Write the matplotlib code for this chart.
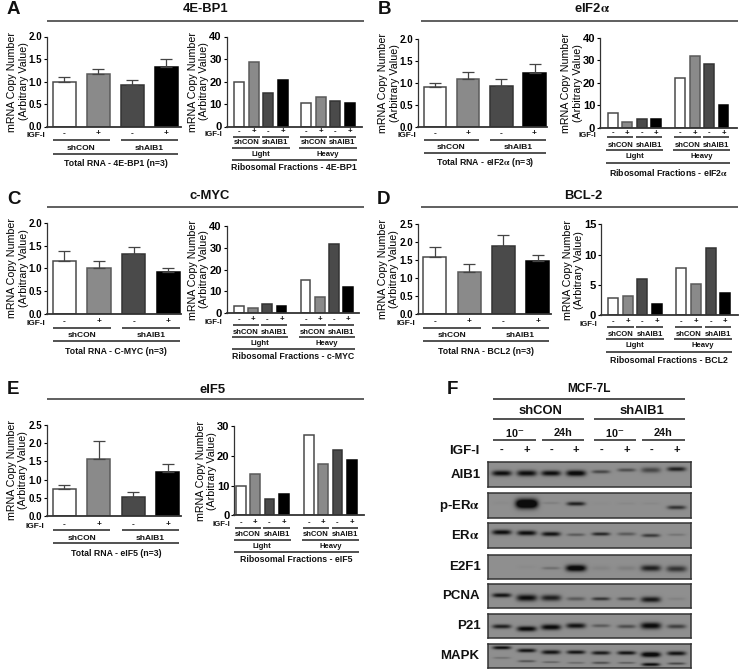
import numpy as np
import matplotlib
matplotlib.use('Agg')
import matplotlib.pyplot as plt

plt.rcParams['font.family'] = ['Liberation Sans', 'DejaVu Sans']
plt.rcParams['font.weight'] = 'bold'
plt.rcParams['mathtext.fontset'] = 'stix'

W, H = 740, 670
INK = '#222222'
ALPHA = '$\\mathrm{\\alpha}$'
BAR_COLORS = ['white', '#8a8a8a', '#4a4a4a', 'black']
BAR_EDGES = ['#4a4a4a', '#5a5a5a', '#333333', 'black']

SIGNS = ['-', '+', '-', '+']
GROUPS = ['shCON', 'shAIB1']
FRACTIONS = ['Light', 'Heavy']

# values
a_total = [0.98, 1.17, 0.93, 1.32]
a_total_err = [0.11, 0.11, 0.10, 0.17]
a_rib = [19.7, 28.7, 15.0, 20.5, 10.5, 13.0, 11.3, 10.4]
b_total = [0.90, 1.08, 0.93, 1.23]
b_total_err = [0.10, 0.17, 0.16, 0.20]
b_rib = [6.5, 2.5, 4.0, 3.9, 22.0, 32.0, 28.5, 10.3]
c_total = [1.17, 1.00, 1.31, 0.93]
c_total_err = [0.21, 0.17, 0.16, 0.07]
c_rib = [3.3, 2.6, 4.1, 3.4, 15.4, 7.5, 31.8, 12.2]
d_total = [1.60, 1.18, 1.90, 1.48]
d_total_err = [0.26, 0.20, 0.29, 0.17]
d_rib = [2.8, 3.1, 5.95, 1.9, 7.8, 5.15, 11.0, 3.6]
e_total = [0.73, 1.57, 0.53, 1.22]
e_total_err = [0.11, 0.50, 0.12, 0.20]
e_rib = [9.7, 14.0, 5.6, 7.2, 27.0, 17.4, 21.8, 18.7]

ticks_2 = [0.0, 0.5, 1.0, 1.5, 2.0]
ticks_25 = [0.0, 0.5, 1.0, 1.5, 2.0, 2.5]
ticks_40 = [0, 10, 20, 30, 40]
ticks_15 = [0, 5, 10, 15]
ticks_30 = [0, 10, 20, 30]

# western blot: band strength per lane (0-1), estimated by eye
blot_labels = ['AIB1', 'p-ER' + ALPHA, 'ER' + ALPHA, 'E2F1', 'PCNA', 'P21', 'MAPK']
aib1_bands = [1.00, 1.00, 1.00, 1.10, 0.55, 0.50, 0.55, 0.85]
perk_bands = [0.03, 1.60, 0.12, 0.85, 0.02, 0.05, 0.05, 0.70]
era_bands = [1.00, 1.00, 0.95, 0.40, 0.80, 0.40, 0.65, 0.20]
e2f1_bands = [0.00, 0.03, 0.25, 1.20, 0.08, 0.12, 0.85, 0.70]
pcna_bands = [0.95, 1.00, 0.85, 0.40, 0.70, 0.50, 0.90, 0.10]
p21_bands = [0.85, 1.05, 1.05, 0.95, 0.40, 0.50, 1.05, 0.60]
mapk_bands = [1.00, 0.95, 0.95, 0.95, 0.90, 0.95, 1.20, 0.95]
mapk_low_bands = [0.25, 0.45, 0.35, 0.30, 0.50, 0.40, 1.00, 0.55]

fig = plt.figure(figsize=(W / 100, H / 100), dpi=100)


def px_axes(x0, y_top, x1, y_bot):
    return fig.add_axes([x0 / W, 1 - y_bot / H, (x1 - x0) / W, (y_bot - y_top) / H])


# overlay in image pixels for all the annotation text and brackets
ov = fig.add_axes([0, 0, 1, 1], zorder=5)
ov.set_xlim(0, W)
ov.set_ylim(H, 0)
ov.axis('off')
ov.patch.set_alpha(0)


def hline(x0, x1, y, lw=1.1, color=INK):
    ov.plot([x0, x1], [y, y], color=color, lw=lw, solid_capstyle='butt')


def label(x, y, s, size=6, ha='center', **kw):
    ov.text(x, y, s, fontsize=size, ha=ha, va='center', color='#111111', **kw)


def style_axes(ax, ticks, fontsize):
    for s in ['top', 'right']:
        ax.spines[s].set_visible(False)
    ax.spines['left'].set_linewidth(0.9)
    ax.spines['bottom'].set_linewidth(1.3)
    ax.spines['left'].set_color('#333333')
    ax.spines['bottom'].set_color('#333333')
    ax.set_xticks([])
    ax.set_yticks(ticks)
    ax.set_yticklabels(['%g' % t if max(ticks) > 5 else '%.1f' % t for t in ticks])
    ax.tick_params(axis='y', length=2.5, width=0.8, pad=1, labelsize=fontsize)
    ax.patch.set_alpha(0)


def total_panel(box, start, step, values, errs, ticks, caption, ys):
    x0, y_top, x1, y_bot = box
    ax = px_axes(x0, y_top, x1, y_bot)
    ax.set_xlim(x0, x1)
    ax.set_ylim(0, ticks[-1])
    width = step * 0.675
    centers = [start + width / 2 + i * step for i in range(len(values))]
    ax.bar(centers, values, width=width, color=BAR_COLORS, edgecolor=BAR_EDGES, linewidth=1.1)
    for c, v, e in zip(centers, values, errs):
        ax.errorbar(c, v, yerr=[[0], [e]], color='#444444', lw=0.9, capsize=4.2, capthick=0.9, zorder=1)
    style_axes(ax, ticks, 7)
    ax.set_ylabel('mRNA Copy Number\n(Arbitrary Value)', fontsize=7.7, labelpad=0, linespacing=1.15)

    igf, l1, sh, l2, cap = ys
    label(x0 - 2, igf + 1.5, 'IGF-I', ha='right')
    for c, s in zip(centers, SIGNS):
        label(c, igf, s)
    for i, g in enumerate(GROUPS):
        a, b = centers[2 * i] - width / 2, centers[2 * i + 1] + width / 2
        hline(a, b, l1)
        label((a + b) / 2, sh, g)
    hline(centers[0] - width / 2, centers[-1] + width / 2, l2)
    label((centers[0] + centers[-1]) / 2, cap, caption, size=6.3)


def rib_panel(box, start, step, heavy_start, values, ticks, caption, ys):
    x0, y_top, x1, y_bot = box
    ax = px_axes(x0, y_top, x1, y_bot)
    ax.set_xlim(x0, x1)
    ax.set_ylim(0, ticks[-1])
    width = step * 0.69
    lights = [start + width / 2 + i * step for i in range(4)]
    heavies = [heavy_start + width / 2 + i * step for i in range(4)]
    centers = lights + heavies
    ax.bar(centers, values, width=width, color=BAR_COLORS * 2, edgecolor=BAR_EDGES * 2, linewidth=1.1)
    style_axes(ax, ticks, 8)
    ax.set_ylabel('mRNA Copy Number\n(Arbitrary Value)', fontsize=7.7, labelpad=0, linespacing=1.15)

    igf, l1, sh, l2, frac, l3, cap = ys
    label(x0 - 4, igf + 2.5, 'IGF-I', size=5.6, ha='right')
    for c, s in zip(centers, SIGNS * 2):
        label(c, igf, s, size=5.6)
    for k, (g, f) in enumerate(zip([lights, heavies], FRACTIONS)):
        for i, name in enumerate(GROUPS):
            a, b = g[2 * i] - width / 2 - 1, g[2 * i + 1] + width / 2 + 1
            hline(a, b, l1)
            label((a + b) / 2, sh, name, size=5.5)
        a, b = g[0] - width / 2 - 2, g[3] + width / 2 + 2
        hline(a, b, l2)
        label((a + b) / 2, frac, f, size=5.5)
    a, b = centers[0] - width / 2 - 2, centers[-1] + width / 2 + 2
    hline(a, b, l3)
    label((a + b) / 2, cap, caption, size=6.3)


def header(letter, lx, ly, title, tx, ty, x0, x1, y):
    label(lx, ly, letter, size=13.5, ha='left')
    label(tx, ty, title, size=9.4)
    hline(x0, x1, y, lw=1.2, color='#444444')


# panel A
header('A', 7, 10, '4E-BP1', 206, 9.5, 47, 364, 20.7)
total_panel((47, 36.5, 181, 126.5), 53, 34.0, a_total, a_total_err, ticks_2,
            'Total RNA - 4E-BP1 (n=3)', (134, 140.3, 148, 153.7, 163))
rib_panel((226.7, 36.5, 362, 126.5), 234, 14.5, 301, a_rib, ticks_40,
          'Ribosomal Fractions - 4E-BP1', (132, 136.5, 143, 148, 154, 159.5, 167))

# panel B
header('B', 378, 10, 'eIF2' + ALPHA, 592, 9, 421, 738, 20.7)
total_panel((418, 38.7, 547, 126.7), 423.7, 33.2, b_total, b_total_err, ticks_2,
            'Total RNA - eIF2' + ALPHA + ' (n=3)', (134, 139.5, 147.5, 153, 162.5))
rib_panel((600, 38, 737, 127.7), 608, 14.4, 675.3, b_rib, ticks_40,
          'Ribosomal Fractions - eIF2' + ALPHA, (133, 137.3, 145.3, 150.3, 157, 163.3, 172))

# panel C
header('C', 7, 199, 'c-MYC', 210, 196, 47, 364, 206.5)
total_panel((47, 222.7, 181, 314), 52.7, 34.6, c_total, c_total_err, ticks_2,
            'Total RNA - C-MYC (n=3)', (322, 327.7, 335.7, 341, 351))
rib_panel((226.7, 225.7, 359, 313.3), 234, 14.2, 300.7, c_rib, ticks_40,
          'Ribosomal Fractions - c-MYC', (319.7, 325, 332.7, 337.3, 343.3, 349.3, 356.7))

# panel D
header('D', 377, 199, 'BCL-2', 583, 196, 421, 738, 206.5)
total_panel((417.7, 224, 551, 314.3), 423.3, 34.3, d_total, d_total_err, ticks_25,
            'Total RNA - BCL2 (n=3)', (322, 327.5, 335.5, 341, 351))
rib_panel((601, 224.3, 738, 315), 608, 14.6, 676.3, d_rib, ticks_15,
          'Ribosomal Fractions - BCL2', (321.7, 327, 334.7, 339.3, 345.7, 351.7, 360.7))

# panel E
header('E', 7, 389, 'eIF5', 213, 390, 47, 364, 399)
total_panel((46.7, 425, 181, 516), 52.7, 34.5, e_total, e_total_err, ticks_25,
            'Total RNA - eIF5 (n=3)', (524.7, 529.5, 538, 543, 553))
rib_panel((234.3, 426, 364, 515.3), 235.7, 14.4, 303.7, e_rib, ticks_30,
          'Ribosomal Fractions - eIF5', (522.3, 527.7, 535, 540, 546.3, 552.3, 559.3))

# panel F, western blot
lane_x = [501.7, 526.7, 551, 576, 601, 626.7, 651, 676.7]
blot_rows = [
    ((488, 462, 691, 487), [(aib1_bands, [.45, .45, .45, .45, .39, .32, .32, .28], [.11, .12, .11, .12, .07, .07, .11, .09])]),
    ((488, 493, 691, 518), [(perk_bands, [.40, .43, .40, .43, .42, .42, .42, .58], [.07, .19, .05, .08, .05, .05, .05, .08])]),
    ((488, 523, 691, 548), [(era_bands, [.37, .40, .44, .47, .44, .44, .50, .47], [.10, .10, .09, .06, .07, .07, .07, .05])]),
    ((488, 555, 691, 579), [(e2f1_bands, [.50, .50, .55, .55, .55, .55, .55, .58], [.06, .06, .06, .14, .10, .10, .13, .13])]),
    ((488, 584, 691, 608), [(pcna_bands, [.47, .58, .58, .62, .62, .62, .65, .62], [.09, .14, .13, .08, .07, .07, .12, .06])]),
    ((488, 614, 691, 638), [(p21_bands, [.52, .62, .55, .49, .49, .52, .49, .52], [.09, .11, .12, .11, .07, .08, .14, .09])]),
    ((488, 644, 691, 668), [(mapk_bands, [.15, .27, .34, .34, .37, .37, .44, .39], [.07, .08, .09, .08, .08, .08, .11, .09]),
                            (mapk_low_bands, [.58, .72, .76, .79, .79, .79, .86, .82], [.04, .05, .04, .04, .05, .04, .07, .05])]),
]

for (x0, y0, x1, y1), layers in blot_rows:
    ax = px_axes(x0, y0, x1, y1)
    nx, ny = int((x1 - x0) * 3), int((y1 - y0) * 3)
    xx, yy = np.meshgrid(np.linspace(x0, x1, nx), np.linspace(0, 1, ny))
    img = np.full((ny, nx), 0.56)
    for strength, ypos, thick in layers:
        for c, s, yp, t in zip(lane_x, strength, ypos, thick):
            half = 8.0 + 16 * t
            img -= 0.52 * s * np.exp(-((xx - c) / half) ** 4) * np.exp(-((yy - yp) / t) ** 2)
    ax.imshow(np.clip(img, 0.05, 1), cmap='gray', vmin=0, vmax=1, aspect='auto', extent=[x0, x1, 1, 0])
    ax.set_xticks([])
    ax.set_yticks([])
    for s in ax.spines.values():
        s.set_linewidth(1.1)
        s.set_color('#333333')

label_right = [481, 480, 480, 481, 480, 481, 479]
for (box, _), name, rx in zip(blot_rows, blot_labels, label_right):
    label(rx, (box[1] + box[3]) / 2, name, size=9.5, ha='right')

label(447, 389, 'F', size=13.5, ha='left')
label(589, 389, 'MCF-7L', size=8.6)
hline(493, 685, 399.3)
label(540, 411, 'shCON', size=9.4)
hline(493, 584, 419)
hline(594, 685, 419)
label(642, 411, 'shAIB1', size=9.4)
time_labels = ['10$^{-}$', '24h', '10$^{-}$', '24h']
time_spans = [(493, 536), (542, 584), (594, 636), (642, 685)]
for (a, b), t in zip(time_spans, time_labels):
    label((a + b) / 2, 433, t, size=7.8)
    hline(a, b, 440)
label(479, 451, 'IGF-I', size=9.6, ha='right')
for c, s in zip(lane_x, SIGNS * 2):
    label(c, 450, s, size=8)

fig.savefig('out.png', dpi=100)
